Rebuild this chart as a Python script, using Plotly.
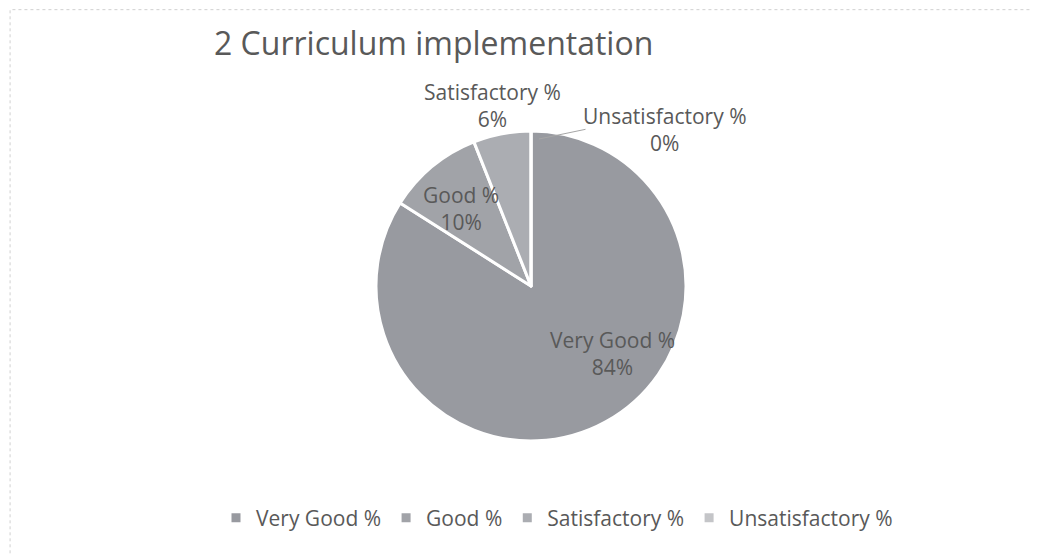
import plotly.graph_objects as go

# chart data
categories = ["Very Good %", "Good %", "Satisfactory %", "Unsatisfactory %"]
values = [84, 10, 6, 0]
slice_colors = ["#989aa0", "#a1a3a8", "#abadb2", "#c4c5c8"]

# where each data label sits (pixels from top-left), as Excel placed them
label_pos = [(604, 345), (453, 200), (484, 97), (657, 122)]

W, H = 1039, 555
font_family = "'Open Sans', Lato, sans-serif"
text_color = "#595959"
label_size = 21

fig = go.Figure(
    go.Pie(
        labels=categories,
        values=values,
        sort=False,
        direction="clockwise",
        rotation=0,
        marker=dict(colors=slice_colors, line=dict(color="white", width=3)),
        textinfo="none",
        domain=dict(x=[368 / W, 678 / W], y=[1 - 433 / H, 1 - 123 / H]),
        showlegend=True,
        hoverinfo="label+percent",
    )
)

total = sum(values)
for cat, val, (px_x, px_y) in zip(categories, values, label_pos):
    fig.add_annotation(
        x=px_x / W, y=1 - px_y / H, xref="paper", yref="paper",
        text=f"{cat}<br>{val / total:.0%}",
        showarrow=False, xanchor="center", yanchor="middle",
        font=dict(family=font_family, size=label_size, color=text_color),
    )

# leader line for the zero slice, from the top of the pie to its label
fig.add_annotation(
    x=531 / W, y=1 - 131 / H, xref="paper", yref="paper",
    text="", showarrow=True, arrowhead=0, arrowwidth=1, arrowcolor="#a6a6a6",
    ax=48, ay=-10, standoff=0,
)

fig.update_layout(
    width=W,
    height=H,
    margin=dict(l=0, r=0, t=0, b=0),
    paper_bgcolor="white",
    plot_bgcolor="white",
    title=dict(
        text="2 Curriculum implementation",
        x=206 / W, xanchor="left", y=1 - 36 / H, yanchor="middle",
        font=dict(family=font_family, size=32, color=text_color),
    ),
    legend=dict(
        orientation="h",
        x=208 / W, xanchor="left", y=1 - 510 / H, yanchor="middle",
        font=dict(family=font_family, size=21, color=text_color),
        itemwidth=30,
        traceorder="normal",
    ),
    shapes=[
        dict(type="rect", xref="paper", yref="paper", x0=0.002, y0=0.003, x1=0.998, y1=0.997,
             line=dict(color="#d0d0d0", width=1, dash="dot")),
    ],
)

fig.write_html("out.html")
